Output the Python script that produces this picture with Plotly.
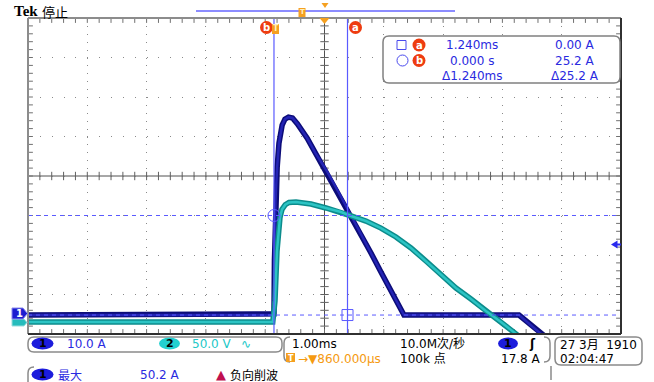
import plotly.graph_objects as go

# CH1 current (A) vs time (ms, relative to trigger)
ch1_t = [-4.148, -0.02, 0.0, 0.008, 0.025, 0.054, 0.084, 0.138, 0.185, 0.245, 0.312,
         0.396, 0.560, 0.700, 0.902, 1.096, 1.299, 1.467, 1.636, 1.804, 2.007, 2.192,
         4.132, 4.503, 4.62]
ch1_a = [0.0, 0.0, 0.3, 13.9, 29.1, 37.5, 43.5, 48.1, 49.6, 50.1, 49.9,
         48.4, 44.8, 41.0, 36.2, 30.9, 25.3, 20.5, 15.7, 10.9, 5.3, 0.0,
         0.0, -4.8, -6.0]
# CH2 voltage (V) vs time (ms)
ch2_t = [-4.148, -0.02, 0.017, 0.051, 0.101, 0.135, 0.190, 0.253, 0.371, 0.624, 0.877, 1.130,
         1.299, 1.551, 1.804, 2.057, 2.310, 2.563, 2.816, 3.069, 3.322, 3.575, 3.828,
         4.081, 4.25]
ch2_v = [0.0, 0.0, 26.6, 89.9, 132.0, 142.5, 148.5, 151.4, 151.9, 149.4, 144.3, 139.2,
         134.2, 127.8, 118.9, 107.6, 93.7, 77.2, 59.5, 43.0, 29.1, 13.9, 0.0,
         -15.2, -25.0]

# scope settings
t_left = -4.148         # ms at left graticule edge
ms_per_div = 1.0
ch1_per_div = 10.0      # A/div
ch1_bottom = -4.8       # A at bottom edge
ch2_per_div = 50.0      # V/div
ch2_bottom = -15.2      # V at bottom edge
cur_a_t, cur_b_t = 1.240, 0.0
cur_a_y, cur_b_y = 0.0, 25.2

# readouts
readout_rows = [["1.240ms", "0.00 A"], ["0.000 s", "25.2 A"], ["Δ1.240ms", "Δ25.2 A"]]

# ---------------- geometry ----------------
W, H = 654, 382
L, R, T, B = 28, 621, 18, 334
NX, NY = 10, 8

def px(X):
    return (X - L) / (R - L)

def py(Y):
    return (B - Y) / (B - T)

def rrect(x0, y0, x1, y1, r):
    return (f"M {px(x0+r)},{py(y0)} L {px(x1-r)},{py(y0)} Q {px(x1)},{py(y0)} {px(x1)},{py(y0+r)} "
            f"L {px(x1)},{py(y1-r)} Q {px(x1)},{py(y1)} {px(x1-r)},{py(y1)} "
            f"L {px(x0+r)},{py(y1)} Q {px(x0)},{py(y1)} {px(x0)},{py(y1-r)} "
            f"L {px(x0)},{py(y0+r)} Q {px(x0)},{py(y0)} {px(x0+r)},{py(y0)} Z")

def poly(pts):
    return "M " + " L ".join(f"{px(a)},{py(b)}" for a, b in pts) + " Z"

xr = [t_left, t_left + NX * ms_per_div]
yr1 = [ch1_bottom, ch1_bottom + NY * ch1_per_div]
yr2 = [ch2_bottom, ch2_bottom + NY * ch2_per_div]

FONT = "DejaVu Sans, Noto Sans CJK SC"
BLUE_TXT = "#2a2ae0"
CUR = "#5a5aff"

fig = go.Figure()

# graticule minor ticks (scatter markers, clipped at edges)
tx = [t_left + i * ms_per_div / 5 for i in range(NX * 5 + 1)]
ty = [ch1_bottom + j * ch1_per_div / 5 for j in range(NY * 5 + 1)]
xc = t_left + NX / 2 * ms_per_div
yc = ch1_bottom + NY / 2 * ch1_per_div
tick_style = dict(color="#606060", size=6, line=dict(color="#606060", width=1))
fig.add_trace(go.Scatter(x=tx, y=[yc] * len(tx), mode="markers",
                         marker=dict(symbol="line-ns", **tick_style), hoverinfo="skip", showlegend=False))
fig.add_trace(go.Scatter(x=[xc] * len(ty), y=ty, mode="markers",
                         marker=dict(symbol="line-ew", **tick_style), hoverinfo="skip", showlegend=False))
edge_style = dict(color="#707070", size=7, line=dict(color="#707070", width=1))
fig.add_trace(go.Scatter(x=tx + tx, y=[yr1[1]] * len(tx) + [yr1[0]] * len(tx), mode="markers",
                         marker=dict(symbol="line-ns", **edge_style), hoverinfo="skip", showlegend=False))
fig.add_trace(go.Scatter(x=[xr[0]] * len(ty) + [xr[1]] * len(ty), y=ty + ty, mode="markers",
                         marker=dict(symbol="line-ew", **edge_style), hoverinfo="skip", showlegend=False))

# waveforms: CH2 (cyan) then CH1 (blue)
fig.add_trace(go.Scatter(x=ch2_t, y=ch2_v, yaxis="y2", mode="lines",
                         line=dict(color="#0c8c8c", width=5.5), hoverinfo="skip", showlegend=False))
fig.add_trace(go.Scatter(x=ch2_t, y=ch2_v, yaxis="y2", mode="lines",
                         line=dict(color="#2cc4c4", width=2.5), hoverinfo="skip", showlegend=False))
fig.add_trace(go.Scatter(x=ch1_t, y=ch1_a, mode="lines",
                         line=dict(color="#0c0c78", width=5.5), hoverinfo="skip", showlegend=False))
fig.add_trace(go.Scatter(x=ch1_t, y=ch1_a, mode="lines",
                         line=dict(color="#2424b4", width=2.5), hoverinfo="skip", showlegend=False))

shapes = []
# centre cross
shapes.append(dict(type="line", xref="paper", yref="paper", x0=0.5, x1=0.5, y0=0, y1=1,
                   line=dict(color="#505050", width=1), layer="below"))
shapes.append(dict(type="line", xref="paper", yref="paper", x0=0, x1=1, y0=0.5, y1=0.5,
                   line=dict(color="#505050", width=1), layer="below"))
# cursor lines
for yv in (cur_b_y, cur_a_y):
    shapes.append(dict(type="line", xref="paper", yref="y", x0=0, x1=1, y0=yv, y1=yv,
                       line=dict(color=CUR, width=1, dash="4px,4px")))
for tv in (cur_b_t, cur_a_t):
    shapes.append(dict(type="line", xref="x", yref="paper", x0=tv, x1=tv, y0=0, y1=1,
                       line=dict(color=CUR, width=1.2)))
# cursor markers
shapes.append(dict(type="circle", xref="x", yref="y", xsizemode="pixel", ysizemode="pixel",
                   xanchor=cur_b_t, yanchor=cur_b_y, x0=-6, x1=6, y0=-6, y1=6,
                   line=dict(color=CUR, width=1)))
shapes.append(dict(type="rect", xref="x", yref="y", xsizemode="pixel", ysizemode="pixel",
                   xanchor=cur_a_t, yanchor=cur_a_y, x0=-5.5, x1=5.5, y0=-5.5, y1=5.5,
                   line=dict(color=CUR, width=1)))
# borders
shapes.append(dict(type="line", xref="paper", yref="paper", x0=0, x1=0, y0=0, y1=1,
                   line=dict(color="#8c8c8c", width=2)))
shapes.append(dict(type="line", xref="paper", yref="paper", x0=0, x1=1, y0=1, y1=1,
                   line=dict(color="#8c8c8c", width=2)))
shapes.append(dict(type="line", xref="paper", yref="paper", x0=1, x1=1, y0=0, y1=1,
                   line=dict(color="#303030", width=2)))
shapes.append(dict(type="line", xref="paper", yref="paper", x0=0, x1=1, y0=0, y1=0,
                   line=dict(color="#303030", width=2)))

# readout box
shapes.append(dict(type="path", xref="paper", yref="paper", path=rrect(383, 36, 620, 83, 6),
                   fillcolor="white", line=dict(color="#808080", width=1.5)))
shapes.append(dict(type="rect", xref="paper", yref="paper", x0=px(397), x1=px(406), y0=py(49.5), y1=py(40.5),
                   line=dict(color="#4a4aee", width=1)))
shapes.append(dict(type="circle", xref="paper", yref="paper", x0=px(397), x1=px(408), y0=py(66), y1=py(55),
                   line=dict(color="#4a4aee", width=1)))
for cy in (45, 60.5):
    shapes.append(dict(type="circle", xref="paper", yref="paper", x0=px(412.5), x1=px(425.5),
                       y0=py(cy + 6.5), y1=py(cy - 6.5), fillcolor="#ee3c10", line=dict(width=0)))
# on-graticule cursor labels
for cx in (266.5, 355.5):
    shapes.append(dict(type="circle", xref="paper", yref="paper", x0=px(cx - 6.5), x1=px(cx + 6.5),
                       y0=py(34), y1=py(21), fillcolor="#ee3c10", line=dict(width=0)))
shapes.append(dict(type="rect", xref="paper", yref="paper", x0=px(272), x1=px(279), y0=py(34), y1=py(24),
                   fillcolor="#f5a020", line=dict(width=0)))
# top bar & trigger markers
shapes.append(dict(type="line", xref="paper", yref="paper", x0=px(196), x1=px(455), y0=py(11), y1=py(11),
                   line=dict(color="#8c8cff", width=2)))
shapes.append(dict(type="rect", xref="paper", yref="paper", x0=px(298.5), x1=px(305.5), y0=py(17), y1=py(8),
                   fillcolor="#f5a020", line=dict(width=0)))
shapes.append(dict(type="path", xref="paper", yref="paper", path=poly([(321.5, 3), (328.5, 3), (325, 8)]),
                   fillcolor="#f5a020", line=dict(width=0)))
shapes.append(dict(type="path", xref="paper", yref="paper", path=poly([(319.5, 18), (329.5, 18), (324.5, 24)]),
                   fillcolor="#f5a020", line=dict(width=0)))
# channel ground markers (left)
shapes.append(dict(type="path", xref="paper", yref="paper",
                   path=poly([(12, 319), (24, 319), (27, 322.5), (24, 326), (12, 326)]),
                   fillcolor="#26bcbc", line=dict(color="#9adede", width=1)))
shapes.append(dict(type="path", xref="paper", yref="paper",
                   path=poly([(12, 308), (23, 308), (27.5, 313.5), (23, 319), (12, 319)]),
                   fillcolor="#1c1cd0", line=dict(color="#8a8aee", width=1)))
# trigger level arrow (right)
shapes.append(dict(type="path", xref="paper", yref="paper", path=poly([(611, 244.5), (617.5, 240.5), (617.5, 248.5)]),
                   fillcolor="#2a2aee", line=dict(width=0)))
shapes.append(dict(type="line", xref="paper", yref="paper", x0=px(617), x1=px(621), y0=py(244.5), y1=py(244.5),
                   line=dict(color="#2a2aee", width=2)))

# status boxes
GRAYBOX = dict(color="#8a8a8a", width=1.5)
shapes.append(dict(type="path", xref="paper", yref="paper", path=rrect(28, 337, 282, 352, 6), line=GRAYBOX))
shapes.append(dict(type="path", xref="paper", yref="paper", path=rrect(555, 337, 642, 365, 6), line=GRAYBOX))
shapes.append(dict(type="path", xref="paper", yref="paper",
                   path=f"M {px(290)},{py(337)} Q {px(284)},{py(337)} {px(284)},{py(343)} L {px(284)},{py(356)} "
                        f"Q {px(284)},{py(362)} {px(290)},{py(362)}", line=GRAYBOX))
shapes.append(dict(type="path", xref="paper", yref="paper",
                   path=f"M {px(544)},{py(337)} Q {px(550)},{py(337)} {px(550)},{py(343)} L {px(550)},{py(356)} "
                        f"Q {px(550)},{py(362)} {px(544)},{py(362)}", line=GRAYBOX))
shapes.append(dict(type="path", xref="paper", yref="paper",
                   path=f"M {px(551)},{py(366)} L {px(551)},{py(380)}", line=GRAYBOX))
shapes.append(dict(type="path", xref="paper", yref="paper",
                   path=f"M {px(34)},{py(367)} Q {px(28)},{py(367)} {px(28)},{py(373)} L {px(28)},{py(382)}",
                   line=GRAYBOX))
# pills
for (x0, x1, y0, y1, col) in [(31.5, 53.5, 337.5, 349.5, "#1c1cdc"), (159, 180, 337.5, 349.5, "#22d0d0"),
                              (498, 518, 337.5, 349.5, "#1c1cdc"), (31.5, 53.5, 368.5, 380.5, "#1c1cdc")]:
    shapes.append(dict(type="circle", xref="paper", yref="paper", x0=px(x0), x1=px(x1), y0=py(y1), y1=py(y0),
                       fillcolor=col, line=dict(width=0)))
shapes.append(dict(type="rect", xref="paper", yref="paper", x0=px(286), x1=px(295), y0=py(362), y1=py(353),
                   fillcolor="#f5a020", line=dict(width=0)))

ann = []
def txt(X, Y, s, color="black", size=12, anchor="center", family=FONT, bold=False):
    if bold:
        s = f"<b>{s}</b>"
    ann.append(dict(xref="paper", yref="paper", x=px(X), y=py(Y), text=s, showarrow=False,
                    xanchor=anchor, yanchor="middle", font=dict(family=family, size=size, color=color)))

txt(12, 11, "Tek", size=15, anchor="left", family="Liberation Serif", bold=True)
txt(40, 11, "停止", size=13, anchor="left", family="Noto Sans CJK SC")
for i, (lv, rv) in enumerate(readout_rows):
    yy = [45, 60.5, 75.5][i]
    txt(472, yy, lv, color=BLUE_TXT, size=12)
    txt(575, yy, rv, color=BLUE_TXT, size=12)
txt(419, 45, "a", color="white", size=10, bold=True)
txt(419, 60.5, "b", color="white", size=10, bold=True)
txt(266.5, 27.5, "b", color="white", size=10, bold=True)
txt(355.5, 27.5, "a", color="white", size=10, bold=True)
txt(275.5, 29, "T", color="#fff0c0", size=8, bold=True)
txt(302, 12.5, "T", color="#fff0c0", size=7, bold=True)
txt(19, 313.5, "1", color="white", size=10, bold=True)
# status line 1
txt(42.5, 343.5, "1", size=11, bold=True)
txt(86.7, 344, "10.0 A", color=BLUE_TXT, size=12)
txt(169.5, 343.5, "2", size=11, bold=True)
txt(212, 344, "50.0 V", color="#22c8c8", size=12)
txt(246, 344, "∿", color="#22c8c8", size=12)
txt(290, 344, "1.00ms", size=12, anchor="left")
txt(290.5, 358, "T", color="white", size=8, bold=True)
txt(296, 358.5, "→▼860.000µs", color="#f59a10", size=12, anchor="left")
txt(398, 344, "10.0M次/秒", size=12, anchor="left")
txt(398, 358.5, "100k 点", size=12, anchor="left")
txt(508, 343.5, "1", size=11, bold=True)
txt(532, 344, "ʃ", size=12, bold=True)
txt(543, 358.5, "17.8 A", size=12, anchor="right")
txt(558, 345, "27 3月  1910", size=12, anchor="left")
txt(558, 358.5, "02:04:47", size=12, anchor="left")
# bottom row
txt(42.5, 374.5, "1", size=11, bold=True)
txt(56, 374.5, "最大", color=BLUE_TXT, size=12, anchor="left", family="Noto Sans CJK SC")
txt(160, 375, "50.2 A", color=BLUE_TXT, size=12)
txt(214, 374.5, "▲", color="#c01050", size=13, anchor="left")
txt(228, 374.5, "负向削波", size=12, anchor="left", family="Noto Sans CJK SC")

fig.update_layout(
    width=W, height=H, margin=dict(l=L, r=W - R, t=T, b=H - B),
    paper_bgcolor="white", plot_bgcolor="white", showlegend=False,
    xaxis=dict(range=xr, tickmode="linear", tick0=t_left, dtick=ms_per_div, showticklabels=False,
               ticks="", showgrid=True, gridcolor="#8a8a8a", gridwidth=1, griddash="1px,6.9px",
               zeroline=False, showline=False, fixedrange=True),
    yaxis=dict(range=yr1, tickmode="linear", tick0=ch1_bottom, dtick=ch1_per_div, showticklabels=False,
               ticks="", showgrid=True, gridcolor="#8a8a8a", gridwidth=1, griddash="1px,10.86px",
               zeroline=False, showline=False, fixedrange=True),
    yaxis2=dict(range=yr2, overlaying="y", visible=False, fixedrange=True),
    shapes=shapes, annotations=ann,
)
fig.write_html("out.html")
